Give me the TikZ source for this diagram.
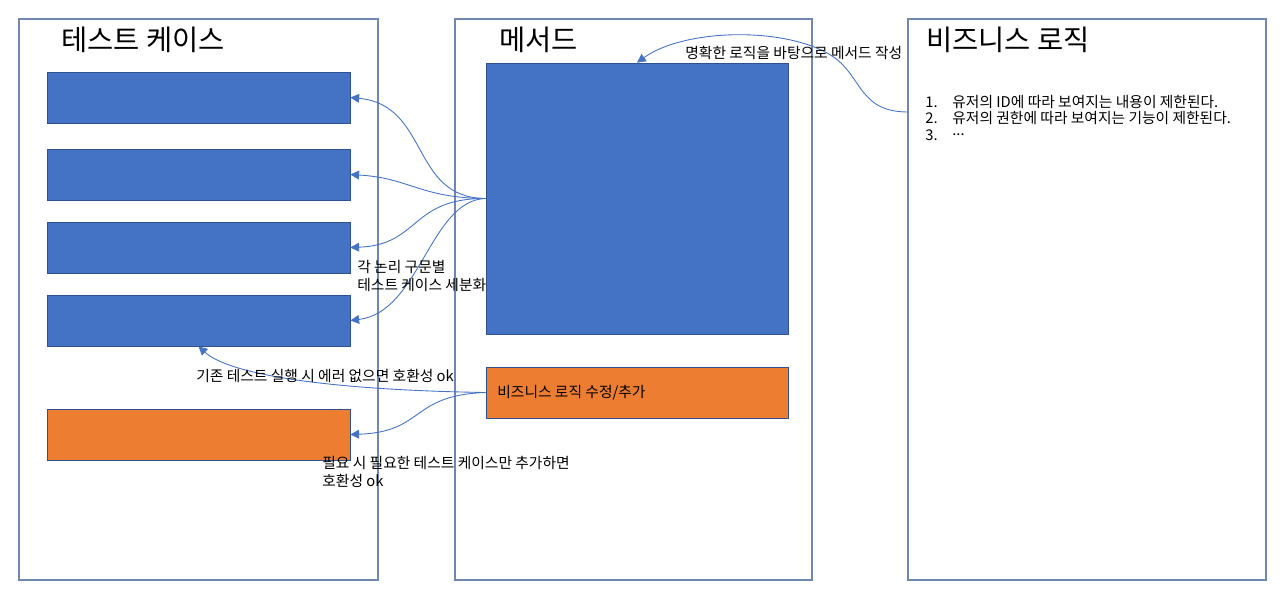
\documentclass[tikz,border=0pt]{standalone}
\usepackage{fontspec}
\setmainfont{Noto Sans CJK KR}
\usetikzlibrary{arrows.meta}

\definecolor{boxblue}{HTML}{4472C4}
\definecolor{boxorange}{HTML}{ED7D31}
\definecolor{edgeblue}{HTML}{2F528F}
\definecolor{framegray}{HTML}{7087B2}

\tikzset{
	frame/.style={draw=framegray, line width=0.8pt, minimum height=11.22cm, inner sep=0pt},
	blk/.style={draw=edgeblue, line width=0.4pt, fill=boxblue, minimum width=6.06cm, minimum height=1.02cm, inner sep=0pt},
	chg/.style={draw=edgeblue, line width=0.4pt, fill=boxorange, minimum width=6.06cm, minimum height=1.02cm, inner sep=0pt},
	title/.style={anchor=west, font=\fontsize{16.2}{19}\selectfont},
	note/.style={anchor=west, font=\fontsize{8.4}{10.4}\selectfont, inner sep=0pt},
	link/.style={boxblue, line width=0.5pt, -{Triangle[length=5pt,width=5pt]}}
}

\begin{document}
\begin{tikzpicture}[x=0.02cm, y=-0.02cm]
			\useasboundingbox (0, 0) rectangle (1280, 602);

			\node [frame, minimum width=7.18cm] (tests) at (198.5, 299.5) {};
			\node [frame, minimum width=7.14cm] (method) at (633.5, 299.5) {};
			\node [frame, minimum width=7.16cm] (logic) at (1087, 299.5) {};

			\node [title] (testsTitle) at (55, 40) {테스트 케이스};
			\node [title] (methodTitle) at (493, 40) {메서드};
			\node [title] (logicTitle) at (920, 40) {비즈니스 로직};

			\node [blk] (t1) at (198.5, 97.5) {};
			\node [blk] (t2) at (198.5, 174.5) {};
			\node [blk] (t3) at (198.5, 247.5) {};
			\node [blk] (t4) at (198.5, 320.5) {};
			\node [chg] (tAdd) at (198.5, 434.5) {};

			\node [blk, minimum width=6.04cm, minimum height=5.42cm] (body) at (637, 198.5) {};
			\node [chg, minimum width=6.04cm] (change) at (637, 392.5) {};
			\node [note] (changeText) at (497, 392.5) {비즈니스 로직 수정/추가};

			% business rules
			\node [note] (n1) at (925, 102) {1.};
			\node [note] (r1) at (952, 102) {유저의 ID에 따라 보여지는 내용이 제한된다.};
			\node [note] (n2) at (925, 118) {2.};
			\node [note] (r2) at (952, 118) {유저의 권한에 따라 보여지는 기능이 제한된다.};
			\node [note] (n3) at (925, 135) {3.};
			\node [note] (r3) at (952, 135) {.\kern0pt.\kern0pt.};

			\coordinate (ruleSrc) at (908, 112);
			\draw [link] (ruleSrc) .. controls (860, 112) and (862, 78) .. (835, 58)
			.. controls (790, 26) and (685, 28) .. (body.north);
			\node [note] (writeText) at (685, 53) {명확한 로직을 바탕으로 메서드 작성};

			% split into test cases
			\draw [link] (body.west) .. controls (410, 198) and (430, 105) .. (t1.east);
			\draw [link] (body.west) .. controls (420, 198) and (410, 178) .. (t2.east);
			\draw [link] (body.west) .. controls (410, 198) and (420, 245) .. (t3.east);
			\draw [link] (body.west) .. controls (430, 200) and (420, 312) .. (t4.east);
			\node [note, anchor=north west, align=left] (splitText) at (357, 260)
			{각 논리 구문별\\테스트 케이스 세분화};

			% compatibility
			\draw [link] (change.west) .. controls (330, 390) and (230, 375) .. (t4.south);
			\draw [link] (change.west) .. controls (410, 395) and (425, 432) .. (tAdd.east);
			\node [note] (oldText) at (196, 376) {기존 테스트 실행 시 에러 없으면 호환성 ok};
			\node [note, anchor=north west, align=left] (newText) at (322, 456)
			{필요 시 필요한 테스트 케이스만 추가하면\\호환성 ok};
		\end{tikzpicture}
\end{document}
